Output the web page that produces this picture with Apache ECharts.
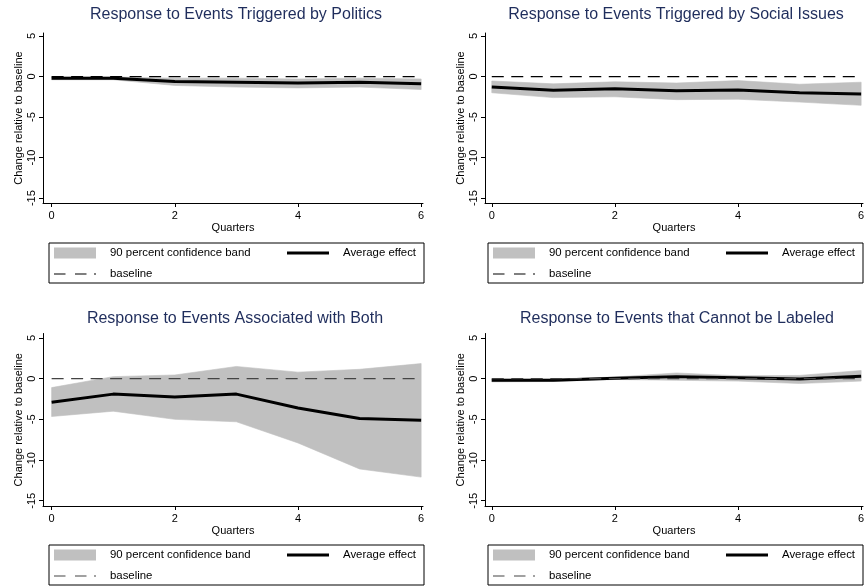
<!DOCTYPE html>
<html>
<head>
<meta charset="utf-8">
<style>
  body { margin: 0; padding: 0; background: #fff; }
  #main { width: 865px; height: 588px; }
</style>
<script src="https://cdn.jsdelivr.net/npm/echarts@6/dist/echarts.min.js"></script>
</head>
<body>
<div id="main"></div>
<script>
// quarters after the event
var quarters = [0, 1, 2, 3, 4, 5, 6];
var baseline = [0, 0, 0, 0, 0, 0, 0];

var xTicks = [0, 2, 4, 6];
var yTicks = [-15, -10, -5, 0, 5];

var titles = [
  'Response to Events Triggered by Politics',
  'Response to Events Triggered by Social Issues',
  'Response to Events Associated with Both',
  'Response to Events that Cannot be Labeled'
];

var politicsAvg = [-0.2, -0.2, -0.6, -0.7, -0.8, -0.7, -0.9];
var politicsLo  = [-0.4, -0.4, -1.1, -1.3, -1.4, -1.3, -1.6];
var politicsHi  = [-0.05, -0.05, -0.2, -0.2, -0.3, -0.2, -0.3];

var socialAvg = [-1.3, -1.7, -1.5, -1.75, -1.65, -2.0, -2.15];
var socialLo  = [-2.0, -2.6, -2.5, -2.85, -2.8, -3.15, -3.55];
var socialHi  = [-0.55, -0.9, -0.65, -0.8, -0.5, -0.95, -0.7];

var bothAvg = [-2.9, -1.9, -2.25, -1.9, -3.6, -4.9, -5.1];
var bothLo  = [-4.65, -4.0, -5.0, -5.3, -7.9, -11.1, -12.1];
var bothHi  = [-1.1, 0.25, 0.45, 1.5, 0.8, 1.15, 1.85];

var unlabAvg = [-0.2, -0.2, 0.05, 0.25, 0.1, -0.05, 0.3];
var unlabLo  = [-0.4, -0.35, -0.1, -0.2, -0.3, -0.6, -0.3];
var unlabHi  = [-0.05, -0.05, 0.2, 0.7, 0.35, 0.4, 1.0];

var panels = [
  { avg: politicsAvg, lo: politicsLo, hi: politicsHi },
  { avg: socialAvg, lo: socialLo, hi: socialHi },
  { avg: bothAvg, lo: bothLo, hi: bothHi },
  { avg: unlabAvg, lo: unlabLo, hi: unlabHi }
];

// layout of the four panels (pixels)
var boxes = [
  { left: 43, top: 33, width: 380, height: 170, xmin: -0.14, ymin: -15.6, ymax: 5.37, titleX: 236, titleY: 7, legendX: 49, legendY: 243, base: '#000' },
  { left: 485, top: 33, width: 378, height: 170, xmin: -0.11, ymin: -15.6, ymax: 5.37, titleX: 676, titleY: 7, legendX: 488, legendY: 243, base: '#000' },
  { left: 43, top: 333.5, width: 380, height: 172.5, xmin: -0.14, ymin: -15.65, ymax: 5.55, titleX: 235, titleY: 311, legendX: 49, legendY: 545, base: '#444' },
  { left: 485, top: 333.5, width: 378, height: 172.5, xmin: -0.11, ymin: -15.65, ymax: 5.55, titleX: 677, titleY: 311, legendX: 488, legendY: 545, base: '#444' }
];

var font = "'Liberation Sans', Arial, Helvetica, sans-serif";
var bandColor = '#c0c0c0';

function pairs(vals) {
  return quarters.map(function (q, k) { return [q, vals[k]]; });
}

// band drawn as one polygon: lower edge left to right, upper edge back
function bandRenderer(lo, hi) {
  return function (params, api) {
    if (params.dataIndex !== 0) return;
    var pts = [];
    quarters.forEach(function (q, k) { pts.push(api.coord([q, lo[k]])); });
    for (var k = quarters.length - 1; k >= 0; k--) pts.push(api.coord([quarters[k], hi[k]]));
    return {
      type: 'polygon',
      shape: { points: pts },
      style: { fill: bandColor, stroke: bandColor, lineWidth: 0.6 }
    };
  };
}

var grid = [], xAxis = [], yAxis = [], title = [], legend = [], series = [];

boxes.forEach(function (b, i) {
  var p = panels[i];
  grid.push({ left: b.left, top: b.top, width: b.width, height: b.height, outerBoundsMode: 'none' });

  xAxis.push({
    type: 'value', gridIndex: i, min: b.xmin, max: 6.03,
    name: 'Quarters', nameLocation: 'middle', nameGap: 19,
    nameTextStyle: { color: '#000', fontSize: 11, fontFamily: font },
    axisLine: { onZero: false, lineStyle: { color: '#000', width: 1 } },
    axisTick: { length: 4, customValues: xTicks, lineStyle: { color: '#000' } },
    axisLabel: { customValues: xTicks, margin: 7, color: '#000', fontSize: 11, fontFamily: font },
    splitLine: { show: false }
  });

  yAxis.push({
    type: 'value', gridIndex: i, min: b.ymin, max: b.ymax,
    name: 'Change relative to baseline', nameLocation: 'middle', nameGap: 19,
    nameTextStyle: { color: '#000', fontSize: 11, fontFamily: font },
    axisLine: { show: true, onZero: false, lineStyle: { color: '#000', width: 1 } },
    axisTick: { show: true, length: 4, customValues: yTicks, lineStyle: { color: '#000' } },
    axisLabel: { customValues: yTicks, rotate: 90, margin: 6, color: '#000', fontSize: 11, fontFamily: font },
    splitLine: { show: false }
  });

  title.push({
    text: titles[i], left: b.titleX, top: b.titleY, textAlign: 'center', padding: 0,
    textStyle: { color: '#1f2d5c', fontSize: 16, fontWeight: 'normal', fontFamily: font }
  });

  legend.push({
    left: b.legendX, top: b.legendY, width: 365,
    orient: 'horizontal', itemGap: 7, itemWidth: 42, itemHeight: 11,
    padding: [3, 7, 2, 5], borderColor: '#000', borderWidth: 1, borderRadius: 0,
    backgroundColor: '#fff', selectedMode: false,
    textStyle: { color: '#000', fontSize: 11.4, fontFamily: font, lineHeight: 14, padding: [0, 0, 0, 9] },
    data: [
      { name: '90 percent confidence band', icon: 'rect', itemStyle: { color: bandColor, borderWidth: 0 }, textStyle: { width: 170 } },
      { name: 'Average effect', icon: 'path://M0,0h42v3h-42z', itemStyle: { color: '#000', borderWidth: 0 }, textStyle: { width: 74 } },
      { name: 'baseline', icon: 'path://M0,0h11.5v1.2h-11.5z M21,0h11.5v1.2h-11.5z M40,0h2v1.2h-2z', itemStyle: { color: b.base, borderWidth: 0 }, textStyle: { width: 170 } }
    ]
  });

  series.push({
    name: '90 percent confidence band', type: 'custom', xAxisIndex: i, yAxisIndex: i,
    data: quarters.map(function (q, k) { return [q, p.lo[k], p.hi[k]]; }),
    encode: { x: 0, y: [1, 2] },
    renderItem: bandRenderer(p.lo, p.hi),
    itemStyle: { color: bandColor }, silent: true, clip: true
  });
  series.push({
    name: 'Average effect', type: 'line', xAxisIndex: i, yAxisIndex: i,
    data: pairs(p.avg), symbol: 'none',
    lineStyle: { color: '#000', width: 3 }, silent: true
  });
  series.push({
    name: 'baseline', type: 'line', xAxisIndex: i, yAxisIndex: i,
    data: pairs(baseline), symbol: 'none',
    lineStyle: { color: b.base, width: 1.2, type: [12, 7.5] }, silent: true
  });
});

var myChart = echarts.init(document.getElementById('main'), null, { renderer: 'canvas' });
myChart.setOption({
  backgroundColor: '#fff',
  animation: false,
  title: title,
  grid: grid,
  xAxis: xAxis,
  yAxis: yAxis,
  legend: legend,
  series: series
});
</script>
</body>
</html>
